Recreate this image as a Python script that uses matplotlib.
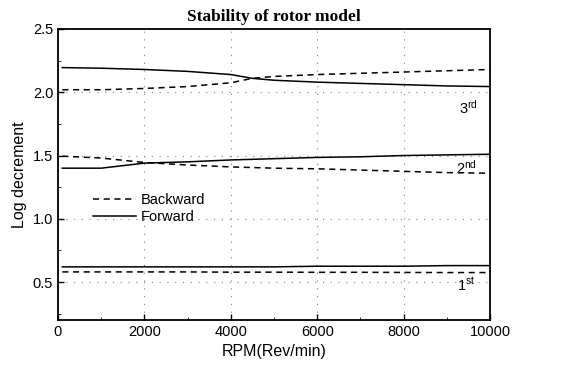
import matplotlib
matplotlib.use('Agg')
import matplotlib.pyplot as plt
from matplotlib.ticker import MultipleLocator

plt.rcParams['font.family'] = ['Liberation Sans', 'DejaVu Sans']
plt.rcParams['mathtext.default'] = 'regular'

rpm = [100, 1000, 2000, 3000, 4000, 4500, 5000, 6000, 7000, 8000, 9000, 10000]

# 3rd mode
fw3 = [2.195, 2.19, 2.18, 2.165, 2.14, 2.11, 2.095, 2.08, 2.07, 2.06, 2.05, 2.045]
bw3 = [2.02, 2.02, 2.03, 2.045, 2.075, 2.11, 2.125, 2.14, 2.15, 2.16, 2.17, 2.18]
# 2nd mode
fw2 = [1.40, 1.40, 1.44, 1.45, 1.465, 1.47, 1.475, 1.485, 1.49, 1.50, 1.505, 1.51]
bw2 = [1.495, 1.48, 1.445, 1.425, 1.41, 1.405, 1.40, 1.395, 1.385, 1.375, 1.365, 1.36]
# 1st mode
fw1 = [0.62, 0.62, 0.62, 0.62, 0.62, 0.62, 0.62, 0.625, 0.625, 0.625, 0.63, 0.63]
bw1 = [0.58, 0.58, 0.58, 0.58, 0.578, 0.578, 0.578, 0.577, 0.577, 0.576, 0.575, 0.575]

fig = plt.figure(figsize=(5.77, 3.72), dpi=100)
ax = fig.add_axes([58/577, 1-320/372, 432/577, 291/372])

dash = (0, (4, 3))
ax.plot(rpm, bw3, 'k', ls=dash, lw=1.1, label='Backward')
ax.plot(rpm, fw3, 'k-', lw=1.1, label='Forward')
ax.plot(rpm, bw2, 'k', ls=dash, lw=1.1)
ax.plot(rpm, fw2, 'k-', lw=1.1)
ax.plot(rpm, bw1, 'k', ls=dash, lw=1.1)
ax.plot(rpm, fw1, 'k-', lw=1.1)

ax.set_xlim(0, 10000)
ax.set_ylim(0.2, 2.5)
ax.xaxis.set_major_locator(MultipleLocator(2000))
ax.xaxis.set_minor_locator(MultipleLocator(1000))
ax.yaxis.set_major_locator(MultipleLocator(0.5))
ax.yaxis.set_minor_locator(MultipleLocator(0.25))
ax.tick_params(which='both', direction='in', labelsize=10.5)
ax.tick_params(which='major', length=4, width=1)
ax.tick_params(which='minor', length=2.5)
ax.grid(True, which='major', ls=(0, (1, 6)), color='0.5', lw=0.8)
for s in ax.spines.values():
    s.set_linewidth(1.3)

ax.set_xlabel('RPM(Rev/min)', fontsize=11.5)
ax.set_ylabel('Log decrement', fontsize=11.5)
ax.set_title('Stability of rotor model', fontsize=12.5, fontweight='bold',
             family='Liberation Serif', pad=6)

ax.text(9500, 1.88, '3$^{rd}$', fontsize=10.5, ha='center', va='center')
ax.text(9450, 1.40, '2$^{nd}$', fontsize=10.5, ha='center', va='center')
ax.text(9450, 0.48, '1$^{st}$', fontsize=10.5, ha='center', va='center')

ax.legend(loc='upper left', bbox_to_anchor=(0.05, 0.48), frameon=False,
          fontsize=10.5, handlelength=3.0, handletextpad=0.3, labelspacing=0.2)

fig.savefig('out.png', dpi=100)
